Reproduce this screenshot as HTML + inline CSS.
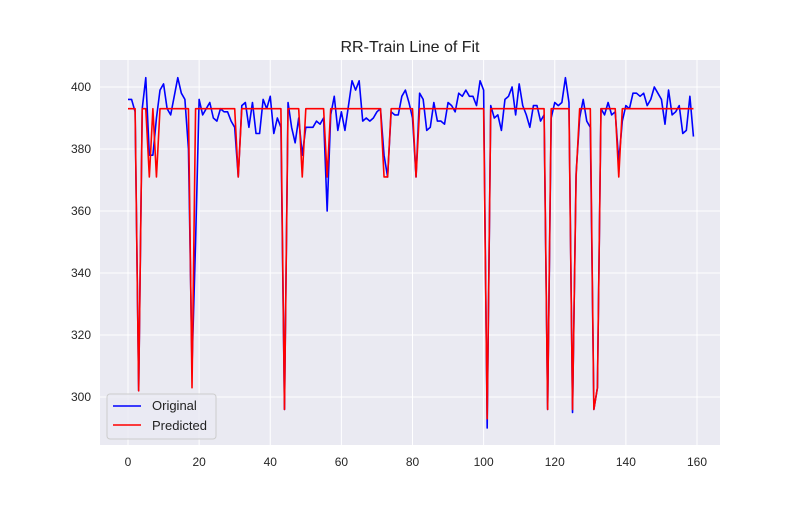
<!DOCTYPE html>
<html><head><meta charset="utf-8"><style>
body{margin:0;background:#fff;font-family:"Liberation Sans",Arial,sans-serif}
</style></head><body>
<svg id="chart" width="800" height="500" xmlns="http://www.w3.org/2000/svg" font-family="Liberation Sans, Arial, sans-serif">
<rect x="0" y="0" width="800" height="500" fill="#fff"/>
<rect x="100" y="60" width="620" height="385" fill="#eaeaf2"/>
<g id="grid"></g><g id="ticks"></g><g id="lines"></g>
<text x="410" y="52" text-anchor="middle" font-size="16" fill="#222">RR-Train Line of Fit</text>
<g>
<rect x="107" y="394" width="109" height="45" rx="3" fill="#eaeaf2" stroke="#ccc" fill-opacity="0.8"/>
<line x1="113" y1="406" x2="141" y2="406" stroke="#0000ff" stroke-width="1.6"/>
<text x="152" y="410" font-size="13" fill="#222">Original</text>
<line x1="113" y1="425" x2="141" y2="425" stroke="#ff0000" stroke-width="1.6"/>
<text x="152" y="430" font-size="13" fill="#222">Predicted</text>
</g>
</svg>
<script>
const xTicks=[0,20,40,60,80,100,120,140,160];
const yTicks=[300,320,340,360,380,400];
const original=[396,396,392,302,393,403,378,378,390,399,401,393,391,397,403,398,396,380,310,350,396,391,393,395,390,389,393,392,392,389,387,371,394,395,387,395,385,385,396,393,397,385,390,387,296,395,387,382,390,378,387,387,387,389,388,390,360,391,397,386,392,386,394,402,399,402,389,390,389,390,392,393,378,371,392,391,391,397,399,395,390,371,398,396,386,387,395,389,389,388,395,394,392,398,397,399,397,397,394,402,399,290,394,390,391,386,396,397,400,391,401,394,391,387,394,394,389,391,296,390,395,394,395,403,395,295,372,390,396,389,387,296,303,393,391,395,391,392,376,389,394,393,398,398,397,398,394,396,400,398,396,388,399,391,392,394,385,386,397,384];
const predicted=[393,393,393,302,393,393,371,393,371,393,393,393,393,393,393,393,393,393,303,393,393,393,393,393,393,393,393,393,393,393,393,371,393,393,393,393,393,393,393,393,393,393,393,393,296,393,393,393,393,371,393,393,393,393,393,393,371,393,393,393,393,393,393,393,393,393,393,393,393,393,393,393,371,371,393,393,393,393,393,393,393,371,393,393,393,393,393,393,393,393,393,393,393,393,393,393,393,393,393,393,393,293,393,393,393,393,393,393,393,393,393,393,393,393,393,393,393,393,296,393,393,393,393,393,393,296,371,393,393,393,393,296,303,393,393,393,393,393,371,393,393,393,393,393,393,393,393,393,393,393,393,393,393,393,393,393,393,393,393,393];
const NS='http://www.w3.org/2000/svg';
const X=v=>128+v*(569/160);
const Y=v=>87+(400-v)*3.1;
const grid=document.getElementById('grid'),ticks=document.getElementById('ticks'),lines=document.getElementById('lines');
function mk(tag,attrs,parent){const e=document.createElementNS(NS,tag);for(const k in attrs)e.setAttribute(k,attrs[k]);parent.appendChild(e);return e;}
xTicks.forEach(t=>{
  const l=mk('line',{x1:X(t),x2:X(t),y1:60,y2:445,stroke:'#fff','stroke-width':1},grid);
  
  
  const tx=mk('text',{x:X(t),y:466,'text-anchor':'middle','font-size':12,fill:'#262626'},ticks);
  tx.textContent=t;
  
  
});
yTicks.forEach(t=>{
  const l=mk('line',{x1:100,x2:720,y1:Y(t),y2:Y(t),stroke:'#fff','stroke-width':1},grid);
  
  
  const tx=mk('text',{x:91,y:Y(t)+4,'text-anchor':'end','font-size':12,fill:'#262626'},ticks);
  tx.textContent=t;
  
  
});
function series(arr,color,name){
  const p=mk('polyline',{points:arr.map((v,i)=>X(i)+','+Y(v)).join(' '),fill:'none',stroke:color,'stroke-width':1.6,'stroke-linejoin':'round'},lines);
  
  
}
series(original,'#0000ff','original-line');
series(predicted,'#ff0000','predicted-line');
</script>
</body></html>
